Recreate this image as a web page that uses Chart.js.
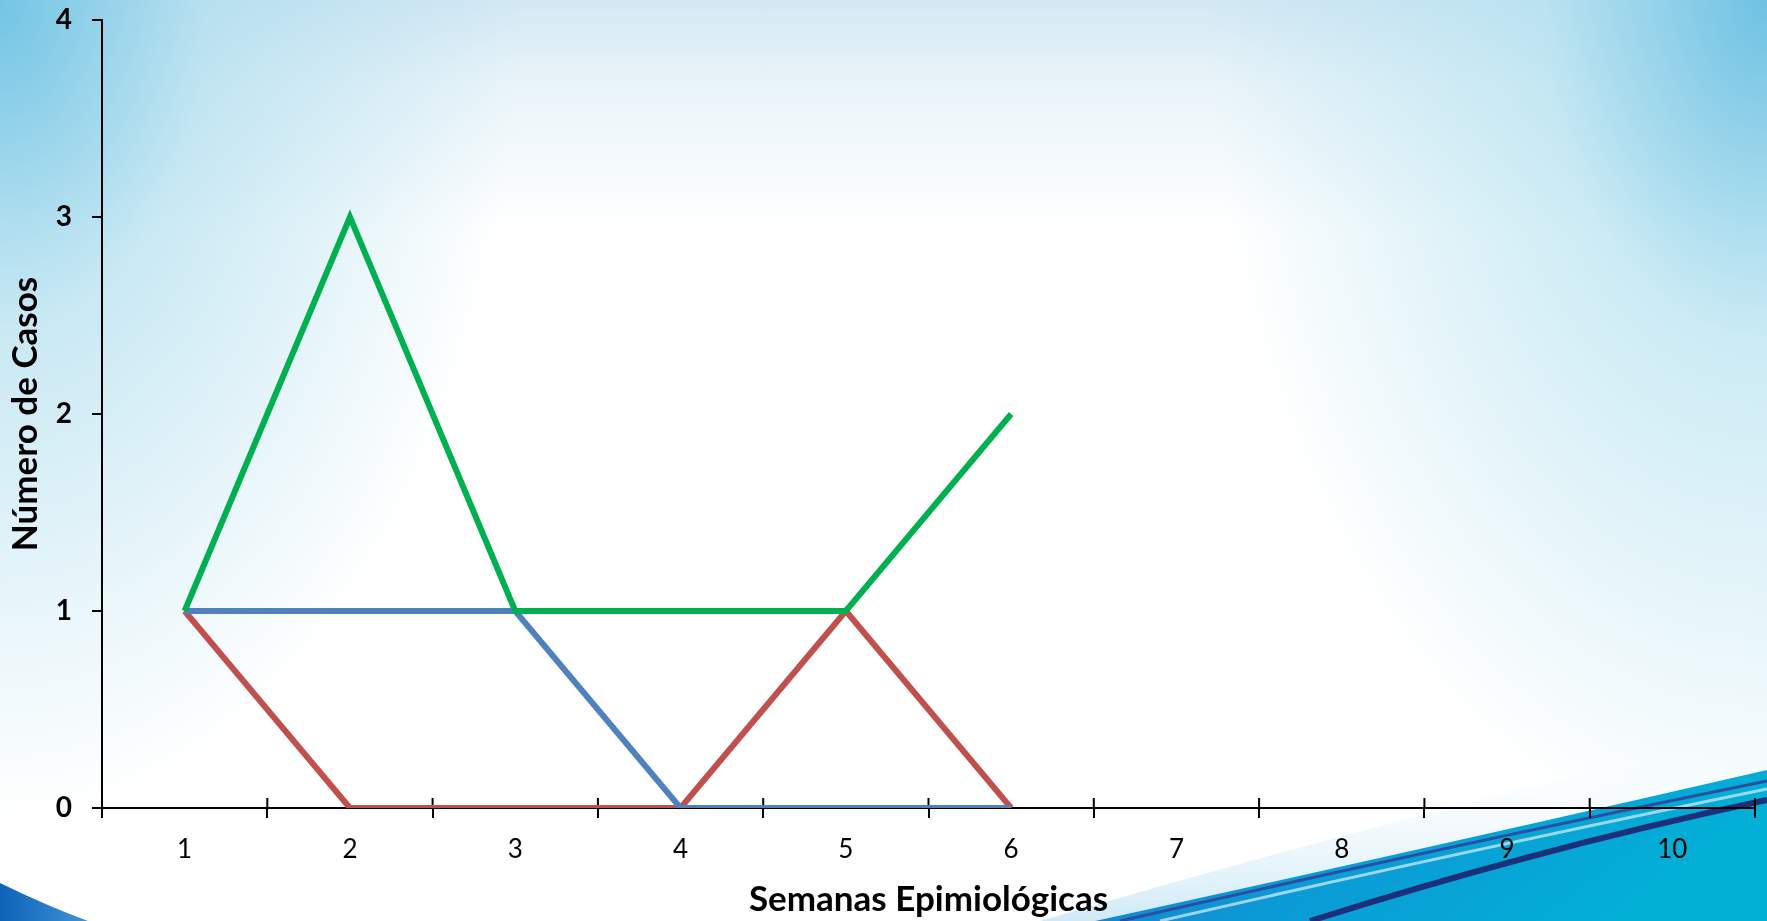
<!DOCTYPE html>
<html>
<head>
<meta charset="utf-8">
<script src="https://cdn.jsdelivr.net/npm/chart.js@4/dist/chart.umd.min.js"></script>
<style>
  body { margin: 0; overflow: hidden; }
  #wrap {
    position: relative; width: 1767px; height: 921px; overflow: hidden;
    background:
      radial-gradient(ellipse 520px 820px at 0% 0%, rgba(110,195,228,0.95), rgba(165,218,236,0.6) 40%, rgba(255,255,255,0) 100%),
      radial-gradient(ellipse 560px 860px at 100% 0%, rgba(105,192,226,0.95), rgba(170,222,238,0.6) 40%, rgba(255,255,255,0) 100%),
      linear-gradient(to bottom, #d3e8f4 0%, #e9f4f9 9%, rgba(255,255,255,0) 25%),
      #ffffff;
  }
  #bg { position: absolute; left: 0; top: 0; }
  #box { position: absolute; left: 0; top: 0; width: 1767px; height: 921px; }
</style>
</head>
<body>
<div id="wrap">
  <svg id="bg" width="1767" height="921">
    <defs>
      <linearGradient id="sw" x1="0" y1="0" x2="1" y2="0.3">
        <stop offset="0" stop-color="#1d72c8"/>
        <stop offset="0.5" stop-color="#0b9bd6"/>
        <stop offset="1" stop-color="#02b0d6"/>
      </linearGradient>
      <linearGradient id="bl" x1="0" y1="0" x2="1" y2="0">
        <stop offset="0" stop-color="#0e63b8"/>
        <stop offset="1" stop-color="#3f94d6"/>
      </linearGradient>
      <linearGradient id="haze" x1="0" y1="1" x2="0" y2="0">
        <stop offset="0" stop-color="#cfeaf7"/>
        <stop offset="1" stop-color="#ffffff" stop-opacity="0"/>
      </linearGradient>
    </defs>
    <path d="M1040 921 Q1400 815 1767 730 L1767 775 Q1420 850 1095 921 Z" fill="url(#haze)"/>
    <path d="M1095 921 Q1420 850 1767 770 L1767 921 Z" fill="url(#sw)"/>
    <path d="M1120 921 Q1430 850 1767 781" stroke="#2a4fa0" stroke-width="3" fill="none"/>
    <path d="M1160 921 Q1450 854 1767 789" stroke="#bfe6f7" stroke-width="3" fill="none" opacity="0.8"/>
    <path d="M1310 921 Q1540 848 1767 800" stroke="#1b2f7a" stroke-width="6" fill="none"/>
    <path d="M0 883 Q45 905 88 921 L0 921 Z" fill="url(#bl)"/>
  </svg>
  <div id="box"><canvas id="myChart"></canvas></div>
</div>
<script>
// data
const semanas = ['1', '2', '3', '4', '5', '6', '7', '8', '9', '10'];
const serieVerde = [1, 3, 1, 1, 1, 2];
const serieAzul = [1, 1, 1, 0, 0, 0];
const serieRoja = [1, 0, 0, 0, 1, 0];
const yTicks = [0, 1, 2, 3, 4];

const fontName = 'Lato, "Open Sans", sans-serif';

// small ticks above the x axis too (the axis ticks cross the line)
const crossTicks = {
  id: 'crossTicks',
  beforeDatasetsDraw(chart) {
    const x = chart.scales.x;
    const ctx = chart.ctx;
    const step = (x.right - x.left) / semanas.length;
    ctx.save();
    ctx.strokeStyle = '#000';
    ctx.lineWidth = 2;
    for (let i = 0; i <= semanas.length; i++) {
      const px = x.left + i * step;
      ctx.beginPath();
      ctx.moveTo(px, x.top - 10);
      ctx.lineTo(px, x.top);
      ctx.stroke();
    }
    ctx.restore();
  }
};

new Chart(document.getElementById('myChart'), {
  type: 'line',
  data: {
    labels: semanas,
    datasets: [
      { label: 'Serie 3', data: serieVerde, borderColor: '#00B050', borderWidth: 6, pointRadius: 0, tension: 0, fill: false },
      { label: 'Serie 1', data: serieAzul, borderColor: '#4F81BD', borderWidth: 6, pointRadius: 0, tension: 0, fill: false },
      { label: 'Serie 2', data: serieRoja, borderColor: '#C0504D', borderWidth: 6, pointRadius: 0, tension: 0, fill: false }
    ]
  },
  options: {
    responsive: true,
    maintainAspectRatio: false,
    animation: false,
    layout: { padding: { top: 20, right: 12, left: 0, bottom: 0 } },
    plugins: { legend: { display: false }, tooltip: { enabled: false } },
    scales: {
      x: {
        offset: true,
        grid: { offset: true, drawOnChartArea: false, tickLength: 10, color: '#000', lineWidth: 2 },
        border: { color: '#000', width: 2 },
        ticks: { color: '#000', padding: 16, maxRotation: 0, font: { family: fontName, size: 26 } },
        title: { display: true, text: 'Semanas Epimiológicas', color: '#000', padding: { top: 0, bottom: 0 }, font: { family: fontName, size: 35, weight: 'bold' } },
        afterFit(scale) {
          scale.height = 113;
          scale.paddingLeft = 0; scale.paddingRight = 0;
        }
      },
      y: {
        min: 0,
        max: 4,
        grid: { drawOnChartArea: false, tickLength: 10, color: '#000', lineWidth: 2 },
        border: { color: '#000', width: 2 },
        afterBuildTicks(scale) { scale.ticks = yTicks.map(v => ({ value: v })); },
        ticks: { color: '#000', padding: 20, font: { family: fontName, size: 28, weight: 'bold' } },
        title: { display: true, text: 'Número de Casos', color: '#000', padding: { top: 5, bottom: 0 }, font: { family: fontName, size: 35, weight: 'bold' } },
        afterFit(scale) {
          scale.width = 102;
          scale.paddingTop = 0; scale.paddingBottom = 0;
        }
      }
    }
  },
  plugins: [crossTicks]
});
</script>
</body>
</html>
